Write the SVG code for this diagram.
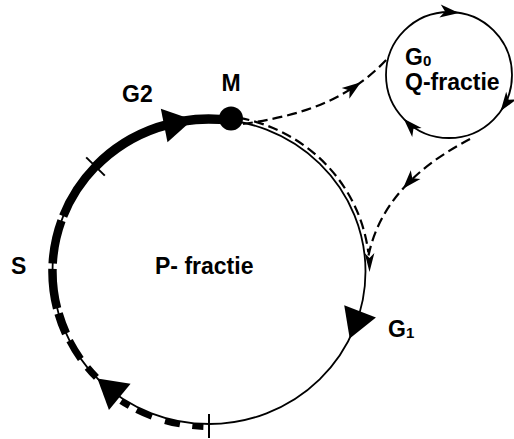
<svg xmlns="http://www.w3.org/2000/svg" width="514" height="439" viewBox="0 0 514 439">
<style>
.t{font-family:"Liberation Sans",Arial,sans-serif;font-weight:bold;font-size:23px;fill:#000}
.sub{font-size:15px}
.thin{fill:none;stroke:#000;stroke-width:1.8}
.thick{fill:none;stroke:#000;stroke-linecap:butt}
.dash{fill:none;stroke:#000;stroke-width:2.2;stroke-dasharray:10 5}
.tick{stroke:#000;stroke-width:2}
</style>
<defs>
<path id="ah" d="M0,0 L-19,-6.5 L-14,0 L-19,6.5 Z" fill="#000"/>
<path id="bigah" d="M0,0 L-29,-17 L-29,17 Z" fill="#000"/>
</defs>
<rect width="514" height="439" fill="#fff"/>

<g id="cycle">
<ellipse class="thin" cx="209" cy="271.5" rx="156.5" ry="152.5"/>
<path class="thick" stroke-width="9.5" d="M95.5,166.5 A156.5,152.5 0 0 1 230.8,120.5"/>
<path class="thick" stroke-width="8.5" d="M63.2,216.1 A156.5,152.5 0 0 1 95.5,166.5 M52.7,263.5 A156.5,152.5 0 0 1 61.5,220.6 M57.1,308.4 A156.5,152.5 0 0 1 52.5,268.8 M66,333.5 A156.5,152.5 0 0 1 58.6,313.5"/>
<path class="thick" stroke-width="7" d="M80.8,359 A156.5,152.5 0 0 1 69.6,340.7 M96.4,377.4 A156.5,152.5 0 0 1 87.4,367.5"/>
<path class="thick" stroke-width="6" d="M203.4,426.9 A159.5,155.5 0 0 1 192.3,426.1 M179.9,424.4 A159.5,155.5 0 0 1 165,421 M151.8,416.7 A159.5,155.5 0 0 1 136.6,410.1 M129.25,406.2 A159.5,155.5 0 0 1 121,401.2"/>
<use href="#bigah" transform="translate(192.6,119.8) rotate(-11.3)"/>
<use href="#bigah" transform="translate(349.7,338.4) rotate(111)"/>
<use href="#bigah" transform="translate(97.4,378.4) rotate(219.5)"/>
<line class="tick" x1="86.2" y1="157.4" x2="104.8" y2="175.6"/>
<line class="tick" x1="209" y1="414" x2="209" y2="438"/>
<text class="t" x="122" y="102">G2</text>
<text class="t" x="11" y="274">S</text>
<text class="t" x="155" y="274">P- fractie</text>
<text class="t" x="388" y="337">G<tspan class="sub" dy="1">1</tspan></text>
</g>

<g id="M">
<circle cx="231" cy="118.5" r="12" fill="#000"/>
<text class="t" x="231" y="91" text-anchor="middle">M</text>
</g>

<g id="G0">
<circle class="thin" cx="449" cy="75" r="63" stroke-width="2"/>
<use href="#ah" transform="translate(459,13) rotate(6)"/>
<use href="#ah" transform="translate(500.6,111.1) rotate(125)"/>
<use href="#ah" transform="translate(403.7,118.8) rotate(-134)"/>
<text class="t" x="405" y="65">G<tspan class="sub" dy="1">0</tspan></text>
<text class="t" x="405" y="90">Q-fractie</text>
</g>

<g id="connectors">
<path class="dash" d="M243,124 C290,117 345,105 388,58"/>
<use href="#ah" transform="translate(360.9,82.2) rotate(-36)"/>
<path class="dash" d="M239.6,117.9 A160.5,156.5 0 0 1 368.3,252.4"/>
<path class="dash" d="M470,139 C430,160 380,195 368,258"/>
<use href="#ah" transform="translate(402.9,188.7) rotate(132)"/>
<use href="#ah" transform="translate(369.5,272) rotate(90) scale(1,0.75)"/>
</g>
</svg>
